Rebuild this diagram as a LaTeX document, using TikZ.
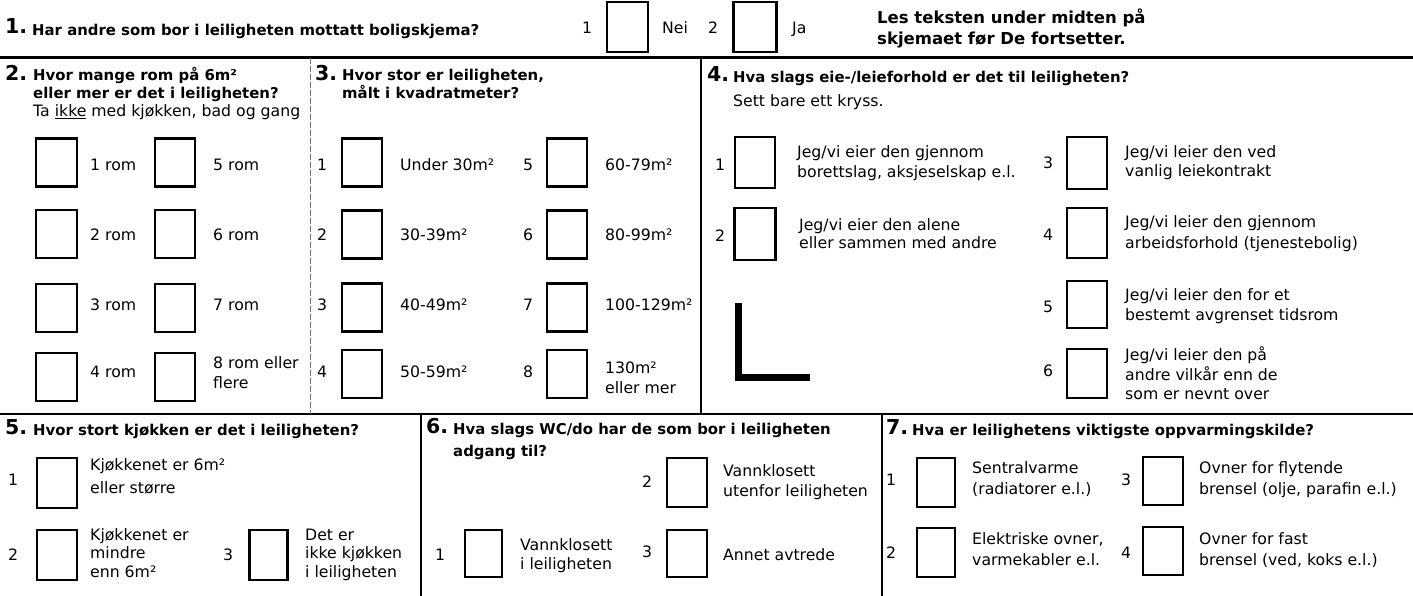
\documentclass[tikz,border=0pt]{standalone}
\usepackage{fontspec}
\setmainfont{DejaVu Sans}
\begin{document}
\begin{tikzpicture}[x=1pt,y=-1pt,
  qnum/.style={font=\fontsize{20.5}{21}\selectfont\bfseries, anchor=base west, inner sep=0},
  qtxt/.style={font=\fontsize{14.9}{17}\selectfont\bfseries, anchor=base west, inner sep=0},
  htxt/.style={font=\fontsize{16.5}{18}\selectfont\bfseries, anchor=base west, inner sep=0},
  lbl/.style={font=\fontsize{15.7}{18}\selectfont, anchor=base west, inner sep=0},
  num/.style={font=\fontsize{15.7}{18}\selectfont, anchor=base, inner sep=0},
  cbox/.style={draw, line width=2.3pt, minimum width=40pt, minimum height=48pt, inner sep=0},
  rule/.style={line width=1.3pt},
  thickrule/.style={line width=3pt},
  lightrule/.style={line width=0.8pt, black!55, dash pattern=on 6pt off 2pt}]
\fill[white] (0,0) rectangle (1413,596);
\path[use as bounding box] (0,0) rectangle (1413,596);

% ---------- rules ----------
\coordinate (tl) at (0,58);   \coordinate (tr) at (1413,58);
\coordinate (ml) at (0,414);  \coordinate (mr) at (1413,414);
\coordinate (d1t) at (310,58);  \coordinate (d1b) at (310,414);
\coordinate (d2t) at (701,58);  \coordinate (d2b) at (701,414);
\coordinate (d3t) at (421,414); \coordinate (d3b) at (421,596);
\coordinate (d4t) at (882,414); \coordinate (d4b) at (882,596);
\draw[thickrule] (tl) -- (tr);
\draw[line width=2.2pt] (ml) -- (mr);
\draw[lightrule] (d1t) -- (d1b);
\draw[rule] (d2t) -- (d2b);
\draw[rule] (d3t) -- (d3b);
\draw[rule] (d4t) -- (d4b);

% ---------- question 1 ----------
\node[qnum] (n1) at (5,34) {1.};
\node[qtxt] (q1) at (32,36) {Har andre som bor i leiligheten mottatt boligskjema?};
\node[num] (q1n1) at (587,33.5) {1};
\node[cbox, minimum width=41pt, minimum height=50pt] (q1b1) at (627.5,27) {};
\node[lbl] (q1t1) at (662,33.5) {Nei};
\node[num] (q1n2) at (713,33.5) {2};
\node[cbox, minimum width=43pt, minimum height=50pt] (q1b2) at (755,27) {};
\node[lbl] (q1t2) at (792,33.5) {Ja};
\node[htxt] (info1) at (877,24) {Les teksten under midten på};
\node[htxt] (info2) at (877,45) {skjemaet før De fortsetter.};

% ---------- question 2 ----------
\node[qnum] (n2) at (5,81) {2.};
\node[qtxt] (q2a) at (33,81) {Hvor mange rom på 6m²};
\node[qtxt] (q2b) at (33,99) {eller mer er det i leiligheten?};
\node[lbl] (q2c) at (33,117) {Ta \underline{ikke} med kjøkken, bad og gang};
\node[cbox, minimum width=41pt] (q2b1) at (56.5,162.5) {};
\node[cbox, minimum width=41pt] (q2b2) at (56.5,234) {};
\node[cbox, minimum width=41pt] (q2b3) at (56.5,308) {};
\node[cbox, minimum width=41pt] (q2b4) at (56.5,377) {};
\node[cbox] (q2b5) at (175,162.5) {};
\node[cbox] (q2b6) at (175,234) {};
\node[cbox] (q2b7) at (175,308) {};
\node[cbox] (q2b8) at (175,377) {};
\node[lbl] (q2t1) at (90,170.5) {1 rom};
\node[lbl] (q2t2) at (90,240.5) {2 rom};
\node[lbl] (q2t3) at (90,310.5) {3 rom};
\node[lbl] (q2t4) at (90,377.5) {4 rom};
\node[lbl] (q2t5) at (213,170.5) {5 rom};
\node[lbl] (q2t6) at (213,240.5) {6 rom};
\node[lbl] (q2t7) at (213,310.5) {7 rom};
\node[lbl] (q2t8a) at (213,368.5) {8 rom eller};
\node[lbl] (q2t8b) at (213,388.5) {flere};

% ---------- question 3 ----------
\node[qnum] (n3) at (315,81) {3.};
\node[qtxt] (q3a) at (342,81) {Hvor stor er leiligheten,};
\node[qtxt] (q3b) at (342,99) {målt i kvadratmeter?};
\node[cbox] (q3b1) at (362,162.5) {};
\node[cbox] (q3b2) at (362,234.5) {};
\node[cbox] (q3b3) at (362,307.5) {};
\node[cbox] (q3b4) at (362,374) {};
\node[cbox] (q3b5) at (567,162.5) {};
\node[cbox] (q3b6) at (567,234.5) {};
\node[cbox] (q3b7) at (567,307.5) {};
\node[cbox] (q3b8) at (567,374) {};
\node[num] (q3n1) at (322,170.5) {1};
\node[num] (q3n2) at (322,240.5) {2};
\node[num] (q3n3) at (322,310.5) {3};
\node[num] (q3n4) at (322,377.5) {4};
\node[num] (q3n5) at (528,170.5) {5};
\node[num] (q3n6) at (528,240.5) {6};
\node[num] (q3n7) at (528,310.5) {7};
\node[num] (q3n8) at (528,377.5) {8};
\node[lbl] (q3t1) at (400,170.5) {Under 30m²};
\node[lbl] (q3t2) at (400,240.5) {30-39m²};
\node[lbl] (q3t3) at (400,310.5) {40-49m²};
\node[lbl] (q3t4) at (400,377.5) {50-59m²};
\node[lbl] (q3t5) at (605,170.5) {60-79m²};
\node[lbl] (q3t6) at (605,240.5) {80-99m²};
\node[lbl] (q3t7) at (605,310.5) {100-129m²};
\node[lbl] (q3t8a) at (605,373.5) {130m²};
\node[lbl] (q3t8b) at (605,393.5) {eller mer};

% ---------- question 4 ----------
\node[qnum] (n4) at (707,82) {4.};
\node[qtxt] (q4a) at (733,83) {Hva slags eie-/leieforhold er det til leiligheten?};
\node[lbl] (q4b) at (733,107) {Sett bare ett kryss.};
\node[num] (q4n1) at (720,170.5) {1};
\node[cbox, minimum width=40pt, minimum height=51pt] (q4b1) at (755,162.5) {};
\node[lbl] (q4t1a) at (797,158) {Jeg/vi eier den gjennom};
\node[lbl] (q4t1b) at (797,178) {borettslag, aksjeselskap e.l.};
\node[num] (q4n2) at (720,241.5) {2};
\node[cbox, minimum width=41pt, minimum height=52pt] (q4b2) at (755,234) {};
\node[lbl] (q4t2a) at (799,230) {Jeg/vi eier den alene};
\node[lbl] (q4t2b) at (799,248) {eller sammen med andre};
\coordinate (la) at (738,303);
\coordinate (lb) at (738,377);
\coordinate (lc) at (810,377);
\draw[line width=7pt] (la) -- (lb) -- (lc);
\node[num] (q4n3) at (1048,168.5) {3};
\node[cbox, minimum width=40pt, minimum height=52pt] (q4b3) at (1087,163) {};
\node[lbl] (q4t3a) at (1125,158) {Jeg/vi leier den ved};
\node[lbl] (q4t3b) at (1125,177) {vanlig leiekontrakt};
\node[num] (q4n4) at (1048,240.5) {4};
\node[cbox, minimum width=40pt, minimum height=50pt] (q4b4) at (1087,233) {};
\node[lbl] (q4t4a) at (1125,228) {Jeg/vi leier den gjennom};
\node[lbl] (q4t4b) at (1125,248) {arbeidsforhold (tjenestebolig)};
\node[num] (q4n5) at (1048,312.5) {5};
\node[cbox, minimum width=40pt, minimum height=47pt] (q4b5) at (1087,304.5) {};
\node[lbl] (q4t5a) at (1125,300) {Jeg/vi leier den for et};
\node[lbl] (q4t5b) at (1125,320) {bestemt avgrenset tidsrom};
\node[num] (q4n6) at (1048,376.5) {6};
\node[cbox, minimum width=40pt, minimum height=49pt] (q4b6) at (1087,373.5) {};
\node[lbl] (q4t6a) at (1125,360) {Jeg/vi leier den på};
\node[lbl] (q4t6b) at (1125,380) {andre vilkår enn de};
\node[lbl] (q4t6c) at (1125,399) {som er nevnt over};

% ---------- question 5 ----------
\node[qnum] (n5) at (5,434) {5.};
\node[qtxt] (q5a) at (33,435) {Hvor stort kjøkken er det i leiligheten?};
\node[num] (q5n1) at (13,485.5) {1};
\node[cbox, minimum height=50pt] (q5b1) at (57,483) {};
\node[lbl] (q5t1a) at (90,470) {Kjøkkenet er 6m²};
\node[lbl] (q5t1b) at (90,493) {eller større};
\node[num] (q5n2) at (13,560.5) {2};
\node[cbox, minimum height=50pt] (q5b2) at (57,555) {};
\node[lbl] (q5t2a) at (90,540.5) {Kjøkkenet er};
\node[lbl] (q5t2b) at (90,558.5) {mindre};
\node[lbl] (q5t2c) at (90,577.5) {enn 6m²};
\node[num] (q5n3) at (228,560.5) {3};
\node[cbox, minimum width=38pt, minimum height=50pt] (q5b3) at (268.5,555) {};
\node[lbl] (q5t3a) at (305,540.5) {Det er};
\node[lbl] (q5t3b) at (305,558.5) {ikke kjøkken};
\node[lbl] (q5t3c) at (305,577.5) {i leiligheten};

% ---------- question 6 ----------
\node[qnum] (n6) at (426,433) {6.};
\node[qtxt] (q6a) at (453,434) {Hva slags WC/do har de som bor i leiligheten};
\node[qtxt] (q6b) at (453,456) {adgang til?};
\node[num] (q6n2) at (647,487.5) {2};
\node[cbox, minimum height=49pt] (q6b2) at (687,482.5) {};
\node[lbl] (q6t2a) at (723,476.5) {Vannklosett};
\node[lbl] (q6t2b) at (723,496.5) {utenfor leiligheten};
\node[num] (q6n1) at (440,560.5) {1};
\node[cbox, minimum width=37pt, minimum height=47pt] (q6b1) at (483.5,553.5) {};
\node[lbl] (q6t1a) at (520,550.5) {Vannklosett};
\node[lbl] (q6t1b) at (520,569.5) {i leiligheten};
\node[num] (q6n3) at (647,557.5) {3};
\node[cbox, minimum height=47pt] (q6b3) at (687,553.5) {};
\node[lbl] (q6t3) at (723,560.5) {Annet avtrede};

% ---------- question 7 ----------
\node[qnum] (n7) at (886,434) {7.};
\node[qtxt] (q7a) at (912,435) {Hva er leilighetens viktigste oppvarmingskilde?};
\node[num] (q7n1) at (891,485.5) {1};
\node[cbox, minimum width=38pt, minimum height=49pt] (q7b1) at (936,482.5) {};
\node[lbl] (q7t1a) at (972,473.5) {Sentralvarme};
\node[lbl] (q7t1b) at (972,494.5) {(radiatorer e.l.)};
\node[num] (q7n2) at (891,558.5) {2};
\node[cbox, minimum width=38pt, minimum height=49pt] (q7b2) at (936,552.5) {};
\node[lbl] (q7t2a) at (972,544.5) {Elektriske ovner,};
\node[lbl] (q7t2b) at (972,565.5) {varmekabler e.l.};
\node[num] (q7n3) at (1126,485.5) {3};
\node[cbox] (q7b3) at (1163,481) {};
\node[lbl] (q7t3a) at (1199,473.5) {Ovner for flytende};
\node[lbl] (q7t3b) at (1199,494.5) {brensel (olje, parafin e.l.)};
\node[num] (q7n4) at (1126,558.5) {4};
\node[cbox] (q7b4) at (1163,551) {};
\node[lbl] (q7t4a) at (1199,544.5) {Ovner for fast};
\node[lbl] (q7t4b) at (1199,565.5) {brensel (ved, koks e.l.)};
\end{tikzpicture}
\end{document}
